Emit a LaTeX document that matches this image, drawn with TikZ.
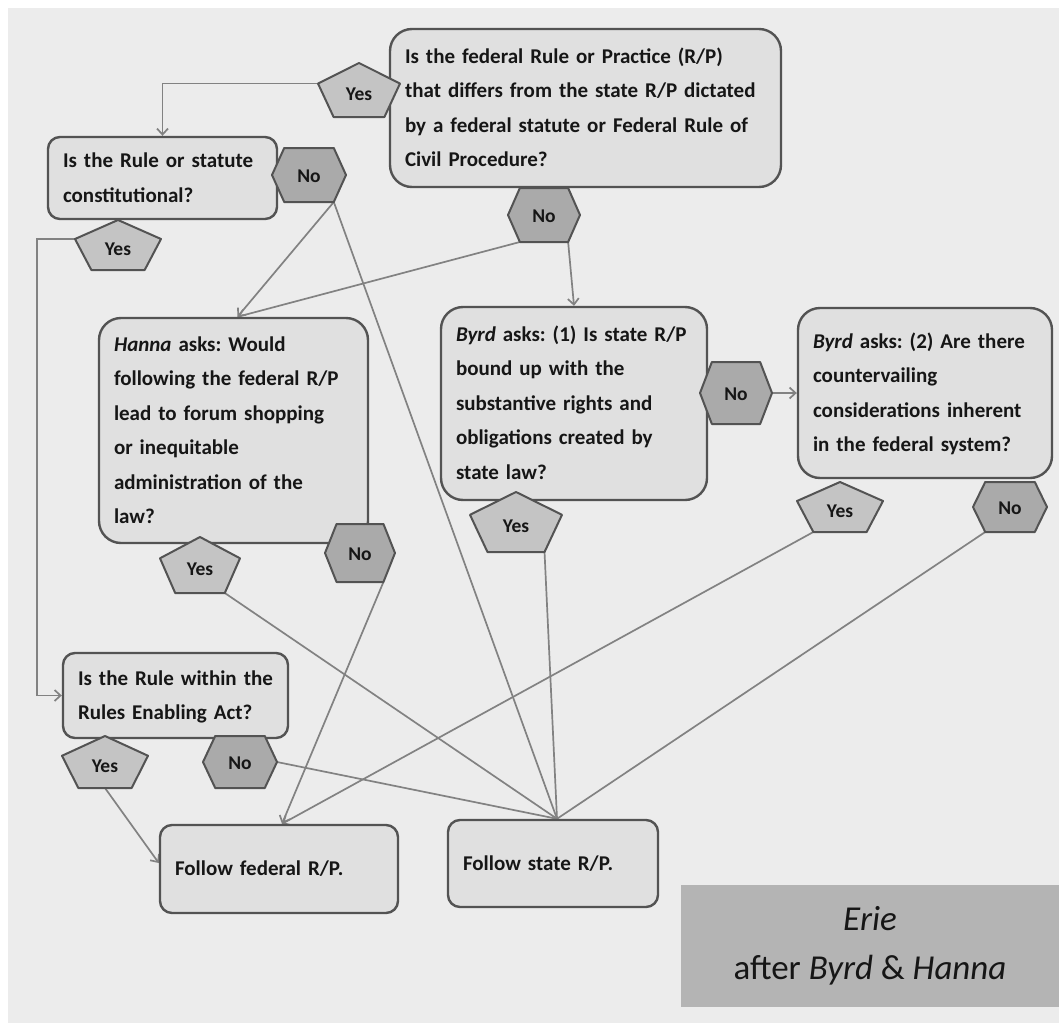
\documentclass[tikz,border=0pt]{standalone}
\usepackage{fontspec}
\setmainfont{Carlito}
\usetikzlibrary{arrows.meta,calc}
\frenchspacing
\definecolor{bgc}{HTML}{ECECEC}
\definecolor{boxfill}{HTML}{E0E0E0}
\definecolor{boxline}{HTML}{535353}
\definecolor{pentfill}{HTML}{C4C4C4}
\definecolor{hexfill}{HTML}{AAAAAA}
\definecolor{conn}{HTML}{828282}
\definecolor{titlefill}{HTML}{B4B4B4}
\definecolor{ink}{HTML}{161616}
\pgfdeclarelayer{back}
\pgfdeclarelayer{lines}
\pgfsetlayers{back,lines,main}
\newcommand\qfont{\fontsize{21}{34.5}\selectfont\bfseries}
\newcommand\labfont{\fontsize{19.5}{22}\selectfont\bfseries}
\newcommand\Q[1]{\begin{tabular}{@{}l@{}}#1\end{tabular}}
\tikzset{
  qbox/.style={draw=boxline, fill=boxfill, line width=2.4pt, align=left,
    inner xsep=15pt, inner ysep=0pt, font=\qfont, text=ink},
  pentst/.style={draw=boxline, fill=pentfill, line width=2pt, line join=round},
  hexst/.style={draw=boxline, fill=hexfill, line width=2pt, line join=round},
  lab/.style={inner sep=0pt, font=\labfont, text=ink},
  arr/.style={draw=conn, line width=1.7pt, -{Straight Barb[length=6pt,width=11pt]}},
  ln/.style={draw=conn, line width=1.7pt},
}
% pentagon "Yes": name, cx, cy, half width, half height
\newcommand\pent[5]{%
  \coordinate (#1-t) at (#2,#3-#5);
  \coordinate (#1-l) at (#2-#4,#3-0.24*#5);
  \coordinate (#1-r) at (#2+#4,#3-0.24*#5);
  \coordinate (#1-bl) at (#2-0.62*#4,#3+#5);
  \coordinate (#1-br) at (#2+0.62*#4,#3+#5);
  \coordinate (#1-b) at (#2,#3+#5);
  \draw[pentst] (#1-t) -- (#1-r) -- (#1-br) -- (#1-bl) -- (#1-l) -- cycle;
  \node[lab] (#1) at (#2,#3+4) {Yes};
}
% hexagon "No": name, cx, cy, half width, half height
\newcommand\hexa[5]{%
  \coordinate (#1-l) at (#2-#4,#3);
  \coordinate (#1-r) at (#2+#4,#3);
  \coordinate (#1-tl) at (#2-0.67*#4,#3-#5);
  \coordinate (#1-tr) at (#2+0.67*#4,#3-#5);
  \coordinate (#1-bl) at (#2-0.67*#4,#3+#5);
  \coordinate (#1-br) at (#2+0.67*#4,#3+#5);
  \draw[hexst] (#1-l) -- (#1-tl) -- (#1-tr) -- (#1-r) -- (#1-br) -- (#1-bl) -- cycle;
  \node[lab] (#1) at (#2,#3+1) {No};
}
\begin{document}
\begin{tikzpicture}[x=1pt,y=-1pt]
\useasboundingbox (0,0) rectangle (1059,1025);
\begin{pgfonlayer}{back}
  \fill[white] (0,0) rectangle (1059,1025);
  \fill[bgc] (8,8) rectangle (1059,1023);
\end{pgfonlayer}

% question boxes
\node[qbox, rounded corners=22pt, text width=361pt, minimum height=158pt] (A) at (585.5,108)
  {\Q{Is the federal Rule or Practice (R/P)\\ that differs from the state R/P dictated\\ by a federal statute or Federal Rule of\\ Civil Procedure?}};
\node[qbox, rounded corners=12pt, text width=199pt, minimum height=82pt] (B) at (162.5,178)
  {\Q{Is the Rule or statute\\ constitutional?}};
\node[qbox, rounded corners=22pt, text width=239pt, minimum height=225pt] (C) at (233.5,430.5)
  {\Q{\textit{Hanna} asks: Would\\ following the federal R/P\\ lead to forum shopping\\ or inequitable\\ administration of the\\ law?}};
\node[qbox, rounded corners=22pt, text width=236pt, minimum height=193pt] (E) at (574,403.5)
  {\Q{\textit{Byrd} asks: (1) Is state R/P\\ bound up with the\\ substantive rights and\\ obligations created by\\ state law?}};
\node[qbox, rounded corners=22pt, text width=224pt, minimum height=170pt] (G) at (925,393)
  {\Q{\textit{Byrd} asks: (2) Are there\\ countervailing\\ considerations inherent\\ in the federal system?}};
\node[qbox, rounded corners=12pt, text width=195pt, minimum height=85pt] (D) at (175.5,695.5)
  {\Q{Is the Rule within the\\ Rules Enabling Act?}};
\node[qbox, rounded corners=12pt, text width=208pt, minimum height=88pt] (F) at (279,869)
  {Follow federal R/P.};
\node[qbox, rounded corners=12pt, text width=180pt, minimum height=87pt] (S) at (553,863.5)
  {Follow state R/P.};

% title
\fill[titlefill] (681,885) rectangle (1059,1007);
\node[font=\fontsize{35}{49}\selectfont, text=ink, align=center] (T) at (870,946)
  {\textit{Erie}\\ after \textit{Byrd} \& \textit{Hanna}};

% yes / no markers
\pent{yA}{359}{90}{41}{27}
\pent{yB}{118}{245}{43}{25}
\pent{yC}{200}{565}{40}{28}
\pent{yE}{516}{522}{46}{30}
\pent{yG}{840}{507}{43}{25}
\pent{yD}{105}{762}{43}{26}
\hexa{nA}{544}{215}{36}{27}
\hexa{nB}{309}{175}{37}{27}
\hexa{nC}{360}{553}{35}{29}
\hexa{nE}{736}{393}{36}{31}
\hexa{nG}{1010}{507}{37}{25}
\hexa{nD}{240}{762}{37}{26}

\coordinate (sTop) at ([xshift=4pt]S.north);

% connectors
\begin{pgfonlayer}{lines}
\draw[arr] (yA-l) -| (B.north);
\draw[arr] (nA-br) -- (E.north);
\draw[arr] (nA-bl) -- ([xshift=4pt]C.north);
\draw[arr] (nB-br) -- ([xshift=4pt]C.north);
\draw[ln] (nB-br) -- (sTop);
\draw[arr] (yB-l) -| ([xshift=-25pt]D.west) -- (D.west);
\draw[ln] (yC-br) -- (sTop);
\draw[arr] (nC-br) -- ([xshift=3pt]F.north);
\draw[ln] (yE-br) -- (sTop);
\draw[arr] (nE-r) -- (G.west);
\draw[arr] (yG-bl) -- ([xshift=3pt]F.north);
\draw[ln] (nG-bl) -- (sTop);
\draw[arr] (yD-b) -- ([yshift=6pt]F.west);
\draw[ln] (nD-r) -- (sTop);
\end{pgfonlayer}
\end{tikzpicture}
\end{document}
